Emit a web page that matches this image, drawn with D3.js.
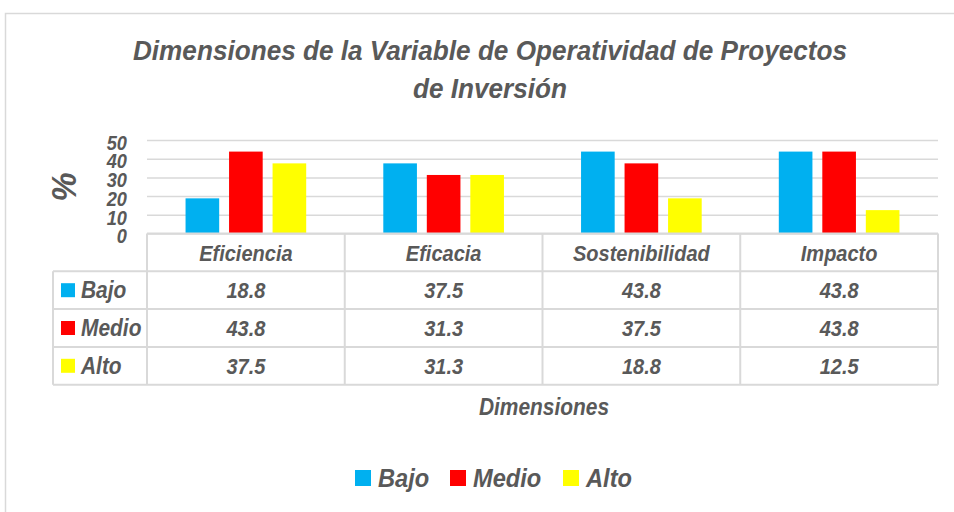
<!DOCTYPE html>
<html>
<head>
<meta charset="utf-8">
<script src="https://cdn.jsdelivr.net/npm/d3@7"></script>
<style>
  html, body { margin: 0; padding: 0; background: #fff; }
  svg text { font-family: "Liberation Sans", Arial, sans-serif; font-weight: bold; font-style: italic; fill: #595959; }
</style>
</head>
<body>
<svg id="chart" width="954" height="512"></svg>
<script>
const categories = ["Eficiencia", "Eficacia", "Sostenibilidad", "Impacto"];
const seriesNames = ["Bajo", "Medio", "Alto"];
const bajo = [18.8, 37.5, 43.8, 43.8];
const medio = [43.8, 31.3, 37.5, 43.8];
const alto = [37.5, 31.3, 18.8, 12.5];
const yTicks = [0, 10, 20, 30, 40, 50];
const colors = ["#00B0F0", "#FF0000", "#FFFF00"];
const titleLines = ["Dimensiones de la Variable de Operatividad de Proyectos", "de Inversión"];

const seriesValues = [bajo, medio, alto];
const svg = d3.select("#chart");
const grid = "#d9d9d9";
const SX = 0.91; // condensed look

function label(parent, x, y, txt, size, anchor, extra, sx) {
  return parent.append("text")
    .attr("transform", `translate(${x},${y})${extra || ""} scale(${sx || SX},1)`)
    .attr("text-anchor", anchor || "start")
    .attr("font-size", size)
    .text(txt);
}

// outer frame
svg.append("rect").attr("x", 5.5).attr("y", 13.5).attr("width", 1000).attr("height", 1000)
  .attr("fill", "#fff").attr("stroke", grid).attr("stroke-width", 1.5);

// title
titleLines.forEach((t, i) => label(svg, 490, 59.5 + i * 38, t, 28.5, "middle", "", 0.918));

const x = d3.scaleBand().domain(categories).range([147, 938]);
const y = d3.scaleLinear().domain([0, 50]).range([233.5, 140]);
const xi = d3.scaleBand().domain(seriesNames).range([0, x.bandwidth()]).paddingInner(0.227).paddingOuter(0.886);

// gridlines
svg.append("g").attr("transform", "translate(147,0)")
  .call(d3.axisLeft(y).tickValues(yTicks).tickSize(-(938 - 147)).tickFormat(""))
  .call(g => g.select(".domain").remove())
  .call(g => g.selectAll("line").attr("stroke", grid).attr("stroke-width", 1.5));

// y tick labels
svg.append("g").attr("transform", "translate(127,2)")
  .call(d3.axisLeft(y).tickValues(yTicks).tickSize(0).tickPadding(0))
  .call(g => g.select(".domain").remove())
  .call(g => g.selectAll("text")
    .attr("x", 0).attr("font-size", 20).attr("font-family", null).attr("fill", null)
    .attr("dy", "0.36em").attr("transform", `scale(${SX},1)`));

// y axis title
label(svg, 76, 187, "%", 36, "middle", " rotate(-90)");

// bars
const groups = svg.append("g").selectAll("g").data(seriesNames).join("g")
  .attr("fill", (d, i) => colors[i]);
groups.selectAll("rect").data((s, si) => categories.map((c, ci) => ({ c, s, v: seriesValues[si][ci] }))).join("rect")
  .attr("x", d => x(d.c) + xi(d.s))
  .attr("width", xi.bandwidth())
  .attr("y", d => y(d.v))
  .attr("height", d => y(0) - y(d.v));

// data table
const rowTop = 233.5, rowH = 37.8;
const tbl = svg.append("g").attr("stroke", grid).attr("stroke-width", 2).attr("fill", "none");
tbl.append("line").attr("x1", 147).attr("x2", 938).attr("y1", rowTop).attr("y2", rowTop);
for (let r = 1; r <= 4; r++) {
  tbl.append("line").attr("x1", 53).attr("x2", 938).attr("y1", rowTop + r * rowH).attr("y2", rowTop + r * rowH);
}
tbl.append("line").attr("x1", 53).attr("x2", 53).attr("y1", rowTop + rowH).attr("y2", rowTop + 4 * rowH);
categories.forEach(c => {
  tbl.append("line").attr("x1", x(c)).attr("x2", x(c)).attr("y1", rowTop).attr("y2", rowTop + 4 * rowH);
});
tbl.append("line").attr("x1", 938).attr("x2", 938).attr("y1", rowTop).attr("y2", rowTop + 4 * rowH);

// header labels
categories.forEach(c => label(svg, x(c) + x.bandwidth() / 2, 261, c, 22, "middle"));

// row labels with keys + values
seriesNames.forEach((s, si) => {
  const cy = rowTop + (si + 1.5) * rowH;
  svg.append("rect").attr("x", 61).attr("y", cy - 7).attr("width", 14).attr("height", 14).attr("fill", colors[si]);
  label(svg, 81, cy + 8, s, 23, "start");
  categories.forEach((c, ci) =>
    label(svg, x(c) + x.bandwidth() / 2, cy + 8, d3.format(".1f")(seriesValues[si][ci]), 22, "middle"));
});

// x axis title
label(svg, 544, 415, "Dimensiones", 23, "middle");

// legend
const legendX = [355, 450, 563];
seriesNames.forEach((s, si) => {
  svg.append("rect").attr("x", legendX[si]).attr("y", 470).attr("width", 16).attr("height", 16).attr("fill", colors[si]);
  label(svg, legendX[si] + 23, 487, s, 26, "start");
});
</script>
</body>
</html>
